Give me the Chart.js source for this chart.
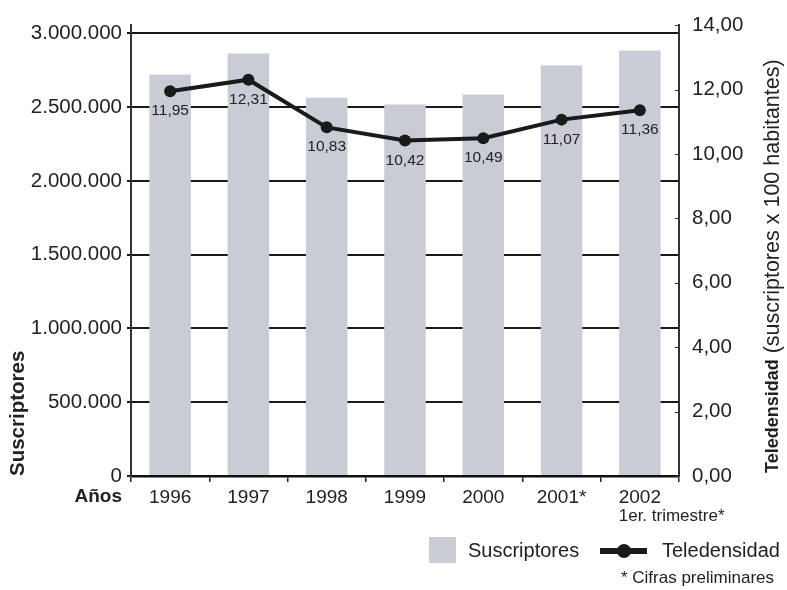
<!DOCTYPE html>
<html>
<head>
<meta charset="utf-8">
<script src="https://cdn.jsdelivr.net/npm/chart.js@4.4.0/dist/chart.umd.min.js"></script>
<style>
  html, body { margin: 0; padding: 0; background: #fff; }
  #wrap { width: 787px; height: 590px; position: relative; }
</style>
</head>
<body>
<div id="wrap"><canvas id="chart" width="787" height="590"></canvas></div>
<script>
const years = ['1996', '1997', '1998', '1999', '2000', '2001*', '2002'];
const suscriptores = [2720000, 2863000, 2564000, 2517000, 2585000, 2782000, 2883000];
const teledensidad = [11.95, 12.31, 10.83, 10.42, 10.49, 11.07, 11.36];
const leftTicks = [0, 500000, 1000000, 1500000, 2000000, 2500000, 3000000];
const rightTicks = [0, 2, 4, 6, 8, 10, 12, 14];

const FONT = '"Liberation Sans", Arial, sans-serif';
const INK = '#222';

const fmtMiles = v => String(Math.round(v)).replace(/\B(?=(\d{3})+(?!\d))/g, '.');
const fmtDec = v => v.toFixed(2).replace('.', ',');

// extra texts: axis titles, point labels, legend, notes
const extras = {
  id: 'extras',
  afterDraw(chart) {
    const ctx = chart.ctx;
    const x = chart.scales.x;
    const y1 = chart.scales.y1;
    ctx.save();

    // small inner ticks on the right axis
    ctx.strokeStyle = '#333';
    ctx.lineWidth = 1;
    y1.ticks.forEach(t => {
      const py = Math.round(y1.getPixelForValue(t.value)) + 0.5;
      ctx.beginPath();
      ctx.moveTo(y1.left - 4, py);
      ctx.lineTo(y1.left, py);
      ctx.stroke();
    });

    // point values under each marker
    ctx.fillStyle = INK;
    ctx.font = '15.5px ' + FONT;
    ctx.textAlign = 'center';
    ctx.textBaseline = 'top';
    teledensidad.forEach((v, i) => {
      ctx.fillText(fmtDec(v), x.getPixelForValue(i), y1.getPixelForValue(v) + 12);
    });

    // second line under 2002
    ctx.font = '19px ' + FONT;
    const w2002 = ctx.measureText(years[6]).width;
    ctx.font = '17px ' + FONT;
    ctx.textAlign = 'left';
    ctx.textBaseline = 'middle';
    ctx.fillText('1er. trimestre*', x.getPixelForValue(6) - w2002 / 2, 516);

    // "Años"
    ctx.font = 'bold 19px ' + FONT;
    ctx.textAlign = 'right';
    ctx.fillText('Años', 122, 497);

    // left title
    ctx.save();
    ctx.translate(18, 476);
    ctx.rotate(-Math.PI / 2);
    ctx.textAlign = 'left';
    ctx.textBaseline = 'middle';
    ctx.font = 'bold 20.5px ' + FONT;
    ctx.fillText('Suscriptores', 0, 0);
    ctx.restore();

    // right title, bold part + normal part
    ctx.save();
    ctx.translate(773, 473);
    ctx.rotate(-Math.PI / 2);
    ctx.textAlign = 'left';
    ctx.textBaseline = 'middle';
    ctx.font = 'bold 18px ' + FONT;
    const tb = 'Teledensidad';
    ctx.fillText(tb, 0, 0);
    const wb = ctx.measureText(tb).width;
    ctx.font = '21.5px ' + FONT;
    ctx.fillText(' (suscriptores x 100 habitantes)', wb, 0);
    ctx.restore();

    // legend
    const bars = chart.data.datasets[1];
    const line = chart.data.datasets[0];
    ctx.fillStyle = bars.backgroundColor;
    ctx.fillRect(429, 537, 27, 26);
    ctx.fillStyle = INK;
    ctx.font = '20px ' + FONT;
    ctx.textAlign = 'left';
    ctx.textBaseline = 'middle';
    ctx.fillText(bars.label, 468, 551);

    ctx.strokeStyle = line.borderColor;
    ctx.lineWidth = 6;
    ctx.beginPath();
    ctx.moveTo(600, 551);
    ctx.lineTo(647, 551);
    ctx.stroke();
    ctx.fillStyle = line.borderColor;
    ctx.beginPath();
    ctx.arc(624, 551, 7, 0, Math.PI * 2);
    ctx.fill();
    ctx.fillStyle = INK;
    ctx.fillText(line.label, 662, 551);

    ctx.font = '17px ' + FONT;
    ctx.textAlign = 'right';
    ctx.fillText('* Cifras preliminares', 774, 578);

    ctx.restore();
  }
};

new Chart(document.getElementById('chart'), {
  data: {
    labels: years,
    datasets: [
      {
        type: 'line',
        label: 'Teledensidad',
        data: teledensidad,
        yAxisID: 'y1',
        borderColor: '#1a1a1a',
        backgroundColor: '#1a1a1a',
        borderWidth: 4,
        pointRadius: 6,
        pointBackgroundColor: '#1a1a1a',
        pointBorderWidth: 0,
        tension: 0,
        order: 0
      },
      {
        type: 'bar',
        label: 'Suscriptores',
        data: suscriptores,
        yAxisID: 'y',
        backgroundColor: '#c9ccd4',
        barPercentage: 0.53,
        categoryPercentage: 1,
        order: 1
      }
    ]
  },
  options: {
    responsive: false,
    animation: false,
    layout: { padding: { top: 19, left: 0, right: 0, bottom: 0 } },
    plugins: { legend: { display: false }, tooltip: { enabled: false } },
    scales: {
      x: {
        afterFit: s => { s.height = 114; },
        grid: { drawOnChartArea: false, offset: true, tickLength: 6, color: '#222', lineWidth: 1.5 },
        border: { color: '#111', width: 2.5 },
        ticks: { color: INK, font: { family: FONT, size: 19 }, padding: 4, maxRotation: 0 }
      },
      y: {
        position: 'left',
        min: 0,
        max: 3054200,
        afterFit: s => { s.width = 131; },
        afterBuildTicks: s => { s.ticks = leftTicks.map(v => ({ value: v })); },
        grid: { color: '#1a1a1a', lineWidth: 2, tickLength: 4 },
        border: { color: '#333', width: 2 },
        ticks: { color: INK, font: { family: FONT, size: 20.5 }, padding: 5, callback: v => fmtMiles(v) }
      },
      y1: {
        position: 'right',
        min: 0,
        max: 14,
        afterFit: s => { s.width = 108; },
        afterBuildTicks: s => { s.ticks = rightTicks.map(v => ({ value: v })); },
        grid: { drawOnChartArea: false, drawTicks: false },
        border: { color: '#333', width: 2 },
        ticks: { color: INK, font: { family: FONT, size: 20.5 }, padding: 13, callback: v => fmtDec(v) }
      }
    }
  },
  plugins: [extras]
});
</script>
</body>
</html>
